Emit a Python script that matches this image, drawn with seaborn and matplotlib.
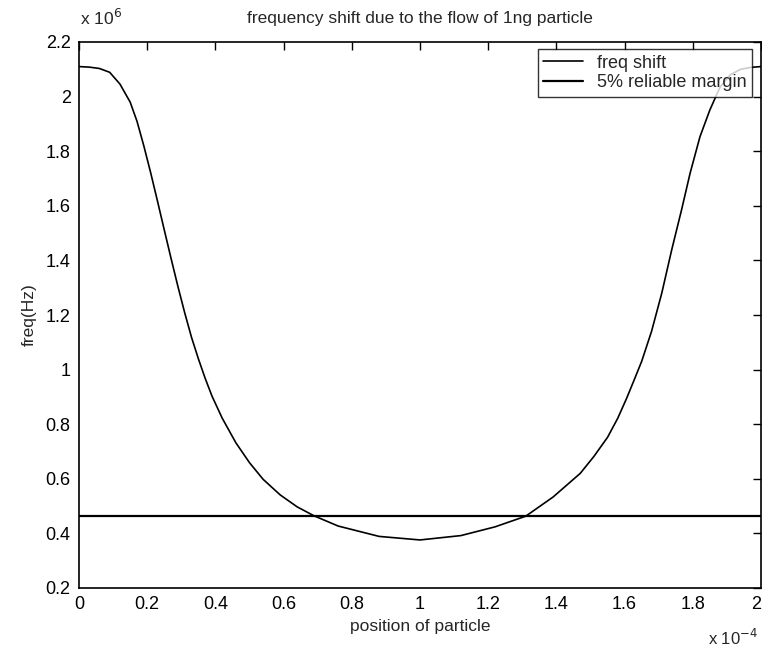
import matplotlib
matplotlib.use("Agg")
import matplotlib.pyplot as plt
import seaborn as sns
import pandas as pd

# position of particle (units of 1e-4) and frequency shift (units of 1e6 Hz)
position = [0.0, 0.03, 0.06, 0.09, 0.12, 0.15, 0.17, 0.19, 0.21, 0.23, 0.25,
            0.27, 0.29, 0.31, 0.33, 0.35, 0.37, 0.39, 0.42, 0.46, 0.50, 0.54,
            0.59, 0.64, 0.69, 0.76, 0.88, 1.0, 1.12, 1.22, 1.31, 1.39, 1.47,
            1.51, 1.55, 1.58, 1.606, 1.628, 1.65, 1.679, 1.709, 1.738, 1.767,
            1.792, 1.821, 1.85, 1.88, 1.91, 1.94, 1.97, 2.0]
freq_shift = [2.110, 2.108, 2.103, 2.089, 2.046, 1.980, 1.910, 1.820, 1.722,
              1.618, 1.512, 1.407, 1.305, 1.208, 1.118, 1.040, 0.968, 0.903,
              0.822, 0.732, 0.659, 0.598, 0.541, 0.497, 0.464, 0.427, 0.389,
              0.376, 0.392, 0.424, 0.463, 0.533, 0.620, 0.682, 0.752, 0.822,
              0.895, 0.962, 1.030, 1.140, 1.280, 1.438, 1.585, 1.719, 1.853,
              1.951, 2.035, 2.080, 2.100, 2.107, 2.110]
margin_x = [0.0, 2.0]
margin_y = [0.463, 0.463]

x_ticks = [0, 0.2, 0.4, 0.6, 0.8, 1.0, 1.2, 1.4, 1.6, 1.8, 2.0]
x_labels = ["0", "0.2", "0.4", "0.6", "0.8", "1", "1.2", "1.4", "1.6", "1.8", "2"]
y_ticks = [0.2, 0.4, 0.6, 0.8, 1.0, 1.2, 1.4, 1.6, 1.8, 2.0, 2.2]
y_labels = ["0.2", "0.4", "0.6", "0.8", "1", "1.2", "1.4", "1.6", "1.8", "2", "2.2"]

sns.set_style("white")
plt.rcParams["font.family"] = ["Liberation Sans", "DejaVu Sans"]

df_curve = pd.DataFrame({"x": position, "y": freq_shift})
df_margin = pd.DataFrame({"x": margin_x, "y": margin_y})

fig = plt.figure(figsize=(7.62, 6.56), dpi=100)
ax = fig.add_axes([79 / 762, 1 - 588 / 656, 682 / 762, 546 / 656])

sns.lineplot(data=df_curve, x="x", y="y", ax=ax, color="black", linewidth=1.2,
             sort=False, label="freq shift")
sns.lineplot(data=df_margin, x="x", y="y", ax=ax, color="black", linewidth=1.6,
             sort=False, label="5% reliable margin")

ax.set_xlim(0, 2)
ax.set_ylim(0.2, 2.2)
ax.set_xticks(x_ticks)
ax.set_xticklabels(x_labels)
ax.set_yticks(y_ticks)
ax.set_yticklabels(y_labels)
ax.tick_params(direction="in", length=6, width=1, top=True, right=True,
               labelsize=13, colors="black", pad=6)
ax.get_xticklabels()[-1].set_horizontalalignment("right")
for s in ax.spines.values():
    s.set_visible(True)
    s.set_color("black")
    s.set_linewidth(1.2)

ax.set_xlabel("position of particle", fontsize=12.5, labelpad=4)
ax.set_ylabel("freq(Hz)", fontsize=12.5, labelpad=6)
ax.set_title("frequency shift due to the flow of 1ng particle", fontsize=12.5, pad=14)

fig.text(80 / 762, 1 - 18 / 656, r"x 10$^{6}$", fontsize=12.5, va="center", ha="left")
fig.text(758 / 762, 1 - 638 / 656, r"x 10$^{-4}$", fontsize=12, va="center", ha="right")

leg = ax.legend(loc="upper right", bbox_to_anchor=(0.987, 0.987), fontsize=13,
                frameon=True, fancybox=False, edgecolor="black", handlelength=2.2,
                borderaxespad=0, labelspacing=0.15, borderpad=0.3)
leg.get_frame().set_linewidth(1.0)

fig.savefig("out.png", dpi=100, facecolor="white")
